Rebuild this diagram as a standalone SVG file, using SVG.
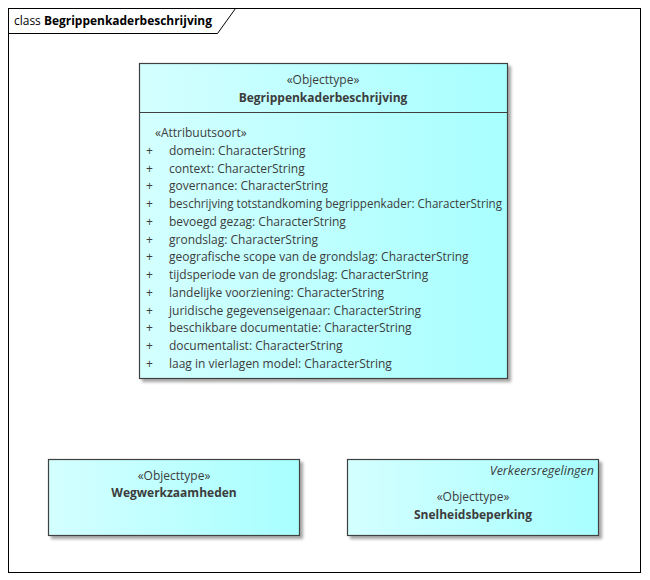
<svg xmlns="http://www.w3.org/2000/svg" width="650" height="580" viewBox="0 0 650 580">
<defs>
<linearGradient id="g" x1="0" y1="0" x2="1" y2="0">
<stop offset="0" stop-color="#d4ffff"/>
<stop offset="1" stop-color="#a8ffff"/>
</linearGradient>
<filter id="sh" x="-5%" y="-5%" width="115%" height="115%">
<feGaussianBlur in="SourceAlpha" stdDeviation="1.5"/>
<feOffset dx="3" dy="3"/>
<feComponentTransfer><feFuncA type="linear" slope="0.35"/></feComponentTransfer>
<feMerge><feMergeNode/><feMergeNode in="SourceGraphic"/></feMerge>
</filter>
</defs>
<style>
text{font-family:"Open Sans","Liberation Sans",sans-serif;font-size:12px;fill:#3c3c3c}
.b{font-weight:bold}
.c{text-anchor:middle}
.i{font-style:italic}
.box{fill:url(#g);stroke:#404040;stroke-width:1.2}
</style>
<rect width="650" height="580" fill="#ffffff"/>
<g id="frame">
<rect x="8.5" y="8.5" width="632" height="564" fill="none" stroke="#000" stroke-width="1"/>
<path d="M8.5 33.5 H217.5 L235.5 8.5" fill="none" stroke="#000" stroke-width="1"/>
<text x="14" y="25" textLength="198" lengthAdjust="spacingAndGlyphs" style="font-size:13px;fill:#000">class <tspan class="b">Begrippenkaderbeschrijving</tspan></text>
</g>
<g id="Begrippenkaderbeschrijving">
<rect class="box" x="139.5" y="63.5" width="368" height="315" filter="url(#sh)"/>
<line x1="139.5" y1="112.5" x2="507.5" y2="112.5" stroke="#404040" stroke-width="1.2"/>
<text class="c" x="323" y="84">«Objecttype»</text>
<text class="c b" x="323" y="102">Begrippenkaderbeschrijving</text>
<text x="155" y="137">«Attribuutsoort»</text>
<g>
<text x="146" y="155">+</text><text x="169" y="155">domein: CharacterString</text>
<text x="146" y="173">+</text><text x="169" y="173">context: CharacterString</text>
<text x="146" y="190">+</text><text x="169" y="190">governance: CharacterString</text>
<text x="146" y="208">+</text><text x="169" y="208" textLength="333" lengthAdjust="spacingAndGlyphs">beschrijving totstandkoming begrippenkader: CharacterString</text>
<text x="146" y="226">+</text><text x="169" y="226">bevoegd gezag: CharacterString</text>
<text x="146" y="244">+</text><text x="169" y="244">grondslag: CharacterString</text>
<text x="146" y="261">+</text><text x="169" y="261">geografische scope van de grondslag: CharacterString</text>
<text x="146" y="279">+</text><text x="169" y="279">tijdsperiode van de grondslag: CharacterString</text>
<text x="146" y="297">+</text><text x="169" y="297">landelijke voorziening: CharacterString</text>
<text x="146" y="315">+</text><text x="169" y="315">juridische gegevenseigenaar: CharacterString</text>
<text x="146" y="332">+</text><text x="169" y="332">beschikbare documentatie: CharacterString</text>
<text x="146" y="350">+</text><text x="169" y="350">documentalist: CharacterString</text>
<text x="146" y="368">+</text><text x="169" y="368">laag in vierlagen model: CharacterString</text>
</g>
</g>
<g id="Wegwerkzaamheden">
<rect class="box" x="48.5" y="459.5" width="251" height="76" filter="url(#sh)"/>
<text class="c" x="174" y="480">«Objecttype»</text>
<text class="c b" x="174" y="497">Wegwerkzaamheden</text>
</g>
<g id="Snelheidsbeperking">
<rect class="box" x="347.5" y="459.5" width="251" height="76" filter="url(#sh)"/>
<text class="i" x="594" y="475" text-anchor="end" style="font-size:12.5px">Verkeersregelingen</text>
<text class="c" x="473" y="501">«Objecttype»</text>
<text class="c b" x="473" y="519">Snelheidsbeperking</text>
</g>
<g id="connectors"></g>
</svg>
